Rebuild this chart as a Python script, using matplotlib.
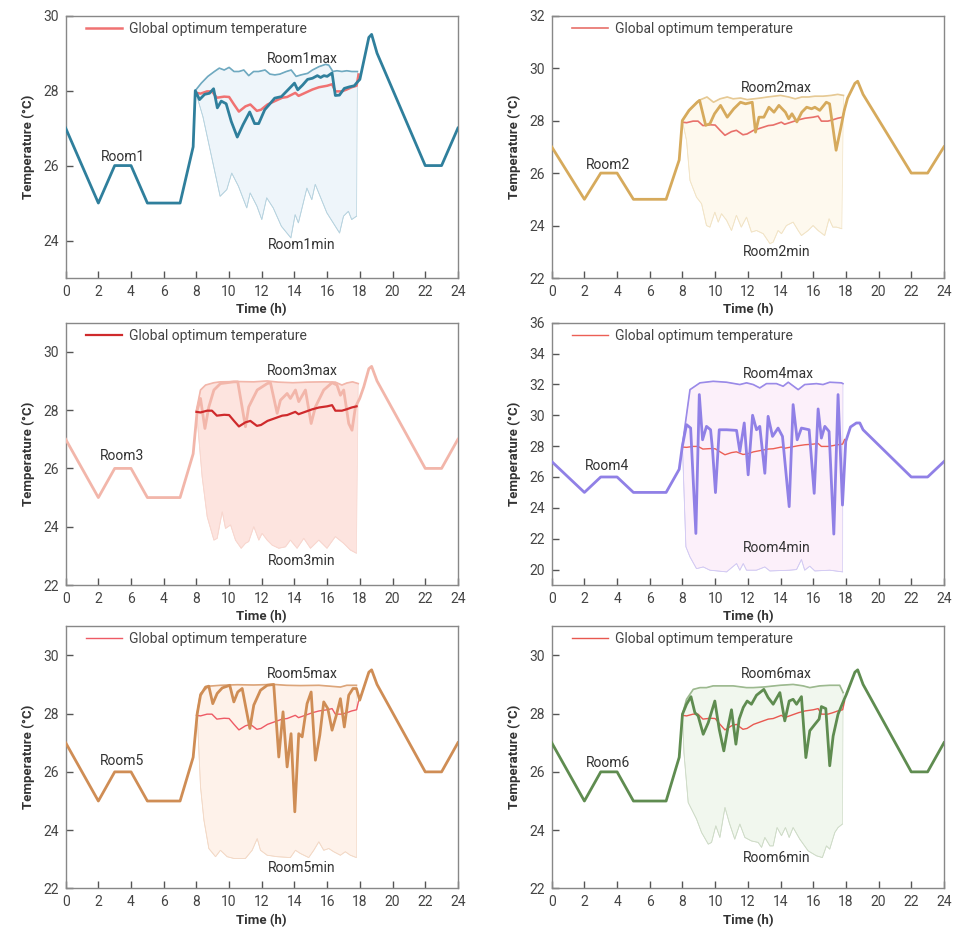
import matplotlib.pyplot as plt

plt.rcParams['font.family'] = ['Roboto', 'DejaVu Sans']

# Zeitachse Nacht / Abend (gleich fuer alle Raeume)
night_t = [0, 2, 3, 4, 5, 7, 7.8]
night_v = [27, 25, 26, 26, 25, 25, 26.5]
eve_t = [18.55, 18.72, 19.05, 22, 23, 24]
eve_v = [29.42, 29.5, 29.0, 26, 26, 27]
eve4_t = [18.64, 18.85, 19.05, 22, 23, 24]
eve4_v = [29.5, 29.5, 29.06, 26, 26, 27]

# Globale optimale Temperatur
opt_t = [8.0, 8.25, 8.65, 8.95, 9.25, 9.7, 10.0, 10.3, 10.6, 11.0, 11.3, 11.7, 11.95, 12.35, 12.75,
         13.25, 13.55, 14.05, 14.25, 14.55, 15.1, 15.5, 16.0, 16.3, 16.5, 16.9, 17.2, 17.5, 17.8, 17.92]
opt_v = [27.94, 27.92, 27.98, 27.98, 27.81, 27.84, 27.83, 27.63, 27.44, 27.58, 27.63, 27.46, 27.49, 27.63, 27.71,
         27.81, 27.83, 27.94, 27.86, 27.92, 28.03, 28.09, 28.13, 28.17, 27.98, 27.98, 28.03, 28.09, 28.13, 28.43]

# Room1
r1_t = [7.93, 8.19, 8.5, 8.8, 9.05, 9.28, 9.52, 9.82, 10.13, 10.5, 10.85, 11.26, 11.56, 11.81, 12.18, 12.48,
        12.79, 13.2, 13.6, 14.0, 14.2, 14.5, 14.8, 15.1, 15.4, 15.6, 15.8, 16.0, 16.3, 16.5, 16.75, 17.05,
        17.36, 17.66, 17.87, 18.0]
r1_v = [28.0, 27.76, 27.9, 27.93, 28.05, 27.54, 27.72, 27.65, 27.18, 26.76, 27.09, 27.43, 27.12, 27.12, 27.49, 27.64,
        27.8, 27.84, 28.02, 28.2, 28.02, 28.15, 28.3, 28.33, 28.4, 28.35, 28.4, 28.38, 28.47, 27.87, 27.88, 28.06,
        28.1, 28.13, 28.24, 28.3]
r1max_t = [7.93, 8.3, 8.7, 9.1, 9.4, 9.7, 10.0, 10.3, 10.6, 10.9, 11.2, 11.5, 11.8, 12.2, 12.5, 12.8, 13.1, 13.5,
           13.8, 14.1, 14.4, 14.8, 15.1, 15.5, 15.9, 16.1, 16.35, 16.6, 16.9, 17.2, 17.5, 17.85]
r1max_v = [28.0, 28.2, 28.38, 28.51, 28.6, 28.55, 28.62, 28.51, 28.51, 28.55, 28.4, 28.51, 28.51, 28.55, 28.44, 28.42,
           28.44, 28.51, 28.55, 28.38, 28.42, 28.46, 28.55, 28.64, 28.7, 28.68, 28.51, 28.53, 28.51, 28.53, 28.51, 28.51]
r1min_t = [7.93, 8.4, 9.45, 9.86, 10.16, 10.57, 11.08, 11.29, 11.7, 12.0, 12.3, 12.7, 13.2, 13.78, 14.04, 14.24,
           14.76, 15.06, 15.27, 15.98, 16.76, 17.0, 17.3, 17.5, 17.8]
r1min_v = [28.0, 27.3, 25.18, 25.36, 25.8, 25.45, 24.87, 25.27, 24.92, 24.56, 25.14, 24.87, 24.38, 24.07, 24.69, 24.47,
           25.4, 25.09, 25.5, 24.74, 24.2, 24.65, 24.78, 24.56, 24.65]

# Room2
r2_t = [7.99, 8.4, 8.9, 9.05, 9.42, 9.68, 9.96, 10.33, 10.74, 11.14, 11.55, 11.86, 12.27, 12.47, 12.68, 12.98,
        13.29, 13.6, 13.9, 14.3, 14.5, 14.7, 15.0, 15.3, 15.6, 15.9, 16.1, 16.4, 16.8, 17.0, 17.4, 17.7, 17.9, 18.1]
r2_v = [28.0, 28.39, 28.7, 28.77, 27.82, 27.88, 28.26, 28.58, 28.13, 28.45, 28.7, 28.64, 28.7, 27.56, 28.13, 28.13,
        28.51, 28.32, 28.58, 28.32, 28.07, 28.26, 27.95, 28.32, 28.51, 28.45, 28.51, 28.39, 28.7, 28.64, 26.87, 27.76,
        28.39, 28.85]
r2max_t = [7.99, 8.5, 9.0, 9.5, 9.9, 10.3, 10.74, 11.1, 11.55, 11.96, 12.37, 12.78, 13.2, 13.6, 14.0, 14.5, 14.9,
           15.3, 15.7, 16.1, 16.6, 17.1, 17.5, 17.85]
r2max_v = [28.0, 28.45, 28.77, 28.9, 28.7, 28.83, 28.9, 28.83, 28.86, 28.8, 28.83, 28.86, 28.9, 28.93, 28.96, 28.9,
           28.83, 28.9, 28.9, 28.93, 28.93, 28.96, 29.0, 28.96]
r2min_t = [7.99, 8.25, 8.46, 8.86, 9.17, 9.47, 9.68, 9.98, 10.19, 10.39, 10.7, 11.0, 11.3, 11.6, 11.92, 12.22, 12.53,
           12.94, 13.35, 13.55, 13.85, 14.06, 14.36, 14.77, 15.08, 15.28, 15.69, 15.99, 16.3, 16.7, 16.97, 17.2,
           17.42, 17.75]
r2min_v = [28.0, 27.24, 25.72, 25.08, 24.83, 24.0, 23.94, 24.51, 24.13, 24.45, 24.2, 23.81, 24.39, 23.94, 24.32,
           23.75, 23.81, 23.69, 23.31, 23.37, 23.81, 23.69, 24.0, 24.13, 23.81, 23.62, 23.81, 24.0, 23.81, 23.62,
           24.26, 23.94, 23.94, 23.88]

# Room3
r3_t = [8.05, 8.25, 8.52, 8.76, 9.07, 9.47, 10.29, 10.53, 11.0, 11.2, 11.72, 12.33, 12.53, 12.94, 13.14, 13.55,
        13.75, 14.06, 14.26, 14.67, 15.02, 15.28, 15.79, 16.3, 16.6, 16.81, 17.01, 17.32, 17.52, 17.73, 17.99, 18.24]
r3_v = [28.0, 28.4, 27.37, 28.11, 28.69, 28.91, 28.97, 28.97, 27.43, 28.11, 28.69, 28.91, 28.94, 27.89, 28.34, 28.57,
        28.4, 28.69, 28.29, 28.69, 27.54, 28.11, 28.69, 28.94, 28.86, 28.51, 28.69, 27.54, 27.31, 28.11, 28.4, 28.8]
r3max_t = [8.0, 8.25, 8.56, 9.07, 9.47, 10.5, 11.5, 12.33, 13.0, 13.9, 14.8, 15.8, 16.5, 16.9, 17.2, 17.55, 17.9]
r3max_v = [28.0, 28.69, 28.86, 28.94, 28.97, 28.98, 28.97, 29.0, 28.96, 28.94, 28.96, 28.97, 28.96, 28.86, 28.93,
           28.97, 28.91]
r3min_t = [8.0, 8.35, 8.66, 9.07, 9.27, 9.58, 9.78, 10.09, 10.39, 10.74, 11.0, 11.2, 11.51, 11.82, 12.02, 12.33,
           12.63, 13.04, 13.45, 13.75, 14.16, 14.57, 14.98, 15.49, 15.99, 16.5, 17.01, 17.42, 17.79]
r3min_v = [28.0, 25.71, 24.34, 23.54, 23.6, 24.51, 23.94, 24.06, 23.54, 23.26, 23.43, 23.49, 24.0, 23.54, 23.77,
           23.54, 23.37, 23.26, 23.31, 23.54, 23.26, 23.6, 23.26, 23.54, 23.26, 23.66, 23.43, 23.2, 23.09]

# Room4
r4_t = [7.99, 8.25, 8.5, 8.82, 9.03, 9.23, 9.47, 9.72, 9.84, 10.02, 10.25, 10.7, 11.31, 11.51, 11.78, 12.02, 12.29,
        12.53, 12.73, 13.04, 13.24, 13.51, 13.85, 14.12, 14.53, 14.77, 15.02, 15.28, 15.75, 16.06, 16.3, 16.5,
        16.71, 16.97, 17.26, 17.52, 17.79, 17.99, 18.28]
r4_v = [27.98, 29.39, 29.17, 22.34, 31.34, 28.41, 29.28, 29.06, 27.76, 24.99, 29.06, 29.06, 29.02, 27.65, 29.5,
        26.14, 30.0, 29.06, 29.28, 26.24, 29.93, 28.63, 29.17, 28.63, 24.08, 30.69, 28.41, 29.17, 29.06, 24.94,
        30.41, 28.52, 29.28, 28.95, 22.3, 31.34, 24.18, 28.3, 29.24]
r4max_t = [8.0, 8.46, 9.07, 9.88, 10.7, 11.51, 11.92, 12.33, 12.73, 13.14, 13.75, 14.16, 14.47, 15.08, 15.48, 16.2,
           16.6, 17.01, 17.73, 17.82]
r4max_v = [28.1, 31.66, 32.1, 32.2, 32.14, 31.99, 32.1, 31.99, 31.77, 32.05, 32.05, 31.88, 32.14, 31.66, 31.99,
           32.05, 31.99, 32.14, 32.1, 32.05]
r4min_t = [8.0, 8.21, 8.46, 8.86, 9.27, 9.68, 10.7, 11.31, 11.51, 11.72, 11.92, 12.53, 13.04, 13.35, 14.57, 14.98,
           15.28, 15.48, 15.79, 16.1, 17.01, 17.8]
r4min_v = [27.98, 21.48, 20.82, 20.06, 20.17, 19.96, 19.85, 20.39, 19.96, 20.39, 19.96, 19.96, 20.17, 19.91, 19.96,
           20.0, 20.65, 19.96, 20.22, 19.91, 19.96, 19.85]

# Room5
r5_t = [8.05, 8.25, 8.56, 8.76, 9.0, 9.27, 9.58, 10.04, 10.29, 10.53, 10.8, 11.27, 11.51, 11.92, 12.33, 12.73,
        13.04, 13.3, 13.55, 13.79, 14.02, 14.26, 14.47, 14.77, 15.02, 15.28, 15.55, 15.79, 16.04, 16.3, 16.56,
        16.81, 17.05, 17.32, 17.58, 17.79, 17.99]
r5_v = [28.0, 28.63, 28.91, 28.94, 28.34, 28.69, 28.88, 28.97, 28.4, 28.74, 28.86, 27.49, 28.29, 28.8, 28.97, 29.0,
        26.51, 28.06, 26.17, 27.31, 24.63, 27.31, 27.2, 28.34, 28.74, 26.4, 27.26, 28.4, 28.17, 27.43, 27.94,
        28.51, 27.54, 28.63, 28.86, 28.86, 28.46]
r5max_t = [8.05, 8.25, 8.76, 9.47, 10.5, 11.5, 12.73, 13.5, 14.36, 15.5, 16.81, 17.2, 17.79]
r5max_v = [28.0, 28.69, 28.94, 28.97, 28.99, 28.98, 29.0, 28.97, 28.96, 28.97, 28.91, 28.97, 28.97]
r5min_t = [8.05, 8.25, 8.46, 8.76, 9.17, 9.47, 9.88, 10.29, 11.0, 11.41, 11.72, 11.92, 12.33, 12.94, 13.75, 14.06,
           14.36, 14.87, 15.18, 15.49, 15.79, 16.1, 16.4, 16.81, 17.11, 17.42, 17.79]
r5min_v = [28.0, 25.49, 24.34, 23.37, 23.09, 23.31, 23.09, 23.03, 23.03, 23.31, 23.71, 23.31, 23.14, 23.09, 23.06,
           23.31, 23.2, 23.06, 23.31, 23.6, 23.31, 23.37, 23.26, 23.14, 23.26, 23.14, 23.06]

# Room6
r6_t = [8.0, 8.25, 8.52, 8.76, 8.96, 9.27, 9.58, 9.98, 10.25, 10.53, 10.8, 11.0, 11.27, 11.47, 11.72, 11.96, 12.22,
        12.53, 12.98, 13.24, 13.55, 13.96, 14.26, 14.53, 14.77, 14.98, 15.28, 15.55, 15.79, 16.1, 16.36, 16.5,
        16.77, 17.01, 17.22, 17.52, 17.83, 18.03]
r6_v = [27.98, 28.32, 28.58, 28.03, 27.92, 27.29, 27.69, 28.43, 27.46, 26.72, 27.58, 28.13, 26.95, 27.81, 28.21,
        28.43, 28.32, 28.63, 28.83, 28.55, 28.32, 28.72, 27.75, 28.43, 28.49, 28.32, 28.58, 26.49, 27.41, 27.63,
        27.81, 28.24, 28.17, 26.21, 27.23, 27.98, 28.4, 28.66]
r6max_t = [8.0, 8.25, 8.66, 9.07, 9.47, 9.88, 11.1, 11.92, 12.33, 12.94, 13.96, 14.77, 15.38, 15.79, 16.4, 17.01,
           17.62, 17.83]
r6max_v = [27.98, 28.49, 28.83, 28.89, 28.89, 28.95, 28.95, 28.89, 28.89, 28.91, 28.97, 29.0, 28.95, 28.89, 28.95,
           28.97, 28.97, 28.72]
r6min_t = [8.0, 8.09, 8.35, 8.86, 9.17, 9.58, 9.78, 10.04, 10.29, 10.6, 10.86, 11.2, 11.51, 11.82, 12.22, 12.63,
           12.84, 13.04, 13.35, 13.55, 13.79, 14.06, 14.3, 14.53, 14.77, 15.18, 15.69, 16.2, 16.56, 16.81, 17.01,
           17.32, 17.52, 17.79]
r6min_v = [27.98, 26.66, 24.95, 24.38, 23.92, 23.52, 23.58, 24.15, 23.75, 24.78, 24.26, 23.69, 24.21, 23.75, 23.63,
           23.58, 23.41, 23.75, 23.46, 23.46, 24.09, 23.81, 24.09, 23.75, 24.09, 23.69, 23.29, 23.12, 23.06, 23.46,
           23.35, 23.92, 24.09, 24.21]

x_ticks = list(range(0, 25, 2))
x_labels = [str(t) for t in x_ticks]
x_labels_room3 = ['0', '2', '6', '4', '8', '10', '12', '14', '16', '18', '20', '22', '24']

rooms = [
    dict(name='Room1', t=r1_t, v=r1_v, mt=r1max_t, mv=r1max_v, nt=r1min_t, nv=r1min_v, et=eve_t, ev=eve_v,
         line='#2f7f9c', maxc='#6fa9c0', minc='#b7d3df', fill='#eef5fa', opt='#f07272', opt_lw=1.8,
         ylim=(23, 30), yticks=[24, 26, 28, 30], pos=(0.0684, 0.7017),
         lab=((3.5, 26.22), (14.45, 28.84), (14.45, 23.89))),
    dict(name='Room2', t=r2_t, v=r2_v, mt=r2max_t, mv=r2max_v, nt=r2min_t, nv=r2min_v, et=eve_t, ev=eve_v,
         line='#d6aa5c', maxc='#e6c994', minc='#f2e4c6', fill='#fef9ee', opt='#e8706a', opt_lw=1.2,
         ylim=(22, 32), yticks=[22, 24, 26, 28, 30, 32], pos=(0.5747, 0.7017),
         lab=((3.46, 26.31), (13.75, 29.25), (13.75, 22.99))),
    dict(name='Room3', t=r3_t, v=r3_v, mt=r3max_t, mv=r3max_v, nt=r3min_t, nv=r3min_v, et=eve_t, ev=eve_v,
         line='#f2b6aa', maxc='#f2b6aa', minc='#f8d6ce', fill='#fde4df', opt='#cf2a2c', opt_lw=1.6,
         ylim=(22, 31), yticks=[22, 24, 26, 28, 30], pos=(0.0684, 0.3723),
         lab=((3.46, 26.42), (14.47, 29.35), (14.47, 22.82))),
    dict(name='Room4', t=r4_t, v=r4_v, mt=r4max_t, mv=r4max_v, nt=r4min_t, nv=r4min_v, et=eve4_t, ev=eve4_v,
         line='#9080e6', maxc='#9a8ae8', minc='#d3caf3', fill='#fcf0fa', opt='#ec5f55', opt_lw=1.0,
         ylim=(19, 36), yticks=[20, 22, 24, 26, 28, 30, 32, 34, 36], pos=(0.5747, 0.3723),
         lab=((3.36, 26.72), (13.85, 32.68), (13.75, 21.41))),
    dict(name='Room5', t=r5_t, v=r5_v, mt=r5max_t, mv=r5max_v, nt=r5min_t, nv=r5min_v, et=eve_t, ev=eve_v,
         line='#cf8d55', maxc='#dca57a', minc='#f3d9c6', fill='#fef2ea', opt='#ee5a65', opt_lw=1.0,
         ylim=(22, 31), yticks=[22, 24, 26, 28, 30], pos=(0.0684, 0.0467),
         lab=((3.46, 26.38), (14.47, 29.35), (14.47, 22.69))),
    dict(name='Room6', t=r6_t, v=r6_v, mt=r6max_t, mv=r6max_v, nt=r6min_t, nv=r6min_v, et=eve_t, ev=eve_v,
         line='#5f8c50', maxc='#9cb98f', minc='#cfdcc8', fill='#f1f7ee', opt='#e85850', opt_lw=1.0,
         ylim=(22, 31), yticks=[22, 24, 26, 28, 30], pos=(0.5747, 0.0467),
         lab=((3.46, 26.3), (13.75, 29.37), (13.75, 23.03))),
]

fig = plt.figure(figsize=(9.6, 9.32), dpi=100)

for r in rooms:
    ax = fig.add_axes([r['pos'][0], r['pos'][1], 0.4086, 0.2815])

    # Band zwischen min und max
    band_x = r['mt'] + r['nt'][::-1]
    band_y = r['mv'] + r['nv'][::-1]
    ax.fill(band_x, band_y, facecolor=r['fill'], edgecolor=r['minc'], lw=0.5, zorder=1)
    ax.plot(r['nt'], r['nv'], color=r['minc'], lw=0.6, zorder=2)
    ax.plot(r['mt'], r['mv'], color=r['maxc'], lw=1.2, zorder=3)

    # Raumtemperatur ueber den Tag
    full_t = night_t + r['t'] + r['et']
    full_v = night_v + r['v'] + r['ev']
    ax.plot(full_t, full_v, color=r['line'], lw=2.0, zorder=4)

    # Room3: Optimum liegt oben und ohne Anstieg am Ende
    if r['name'] == 'Room3':
        ax.plot(opt_t[:-1], opt_v[:-1], color=r['opt'], lw=r['opt_lw'], zorder=5,
                label='Global optimum temperature')
    else:
        ax.plot(opt_t, opt_v, color=r['opt'], lw=r['opt_lw'], zorder=3.5,
                label='Global optimum temperature')

    (lx, ly), (mx, my), (nx, ny) = r['lab']
    ax.text(lx, ly, r['name'], ha='center', va='center', fontsize=10, color='#333333')
    ax.text(mx, my, r['name'] + 'max', ha='center', va='center', fontsize=10, color='#333333')
    ax.text(nx, ny, r['name'] + 'min', ha='center', va='center', fontsize=10, color='#333333')

    ax.set_xlim(0, 24)
    ax.set_ylim(*r['ylim'])
    ax.set_xticks(x_ticks)
    ax.set_xticklabels(x_labels_room3 if r['name'] == 'Room3' else x_labels)
    ax.set_yticks(r['yticks'])
    ax.tick_params(direction='in', length=5, width=1, color='#555555', labelsize=10,
                   labelcolor='#444444', pad=5)
    for s in ax.spines.values():
        s.set_color('#888888')
        s.set_linewidth(1.0)

    ax.set_xlabel('Time (h)', fontsize=9.5, fontweight='bold', color='#333333', labelpad=3)
    ax.set_ylabel('Temperature (°C)', fontsize=9.5, fontweight='bold', color='#333333', labelpad=6)

    ax.legend(loc='upper left', frameon=False, fontsize=10, handlelength=2.6, handletextpad=0.5,
              bbox_to_anchor=(0.02, 1.025), labelcolor='#444444')

plt.savefig('out.png', dpi=100)
